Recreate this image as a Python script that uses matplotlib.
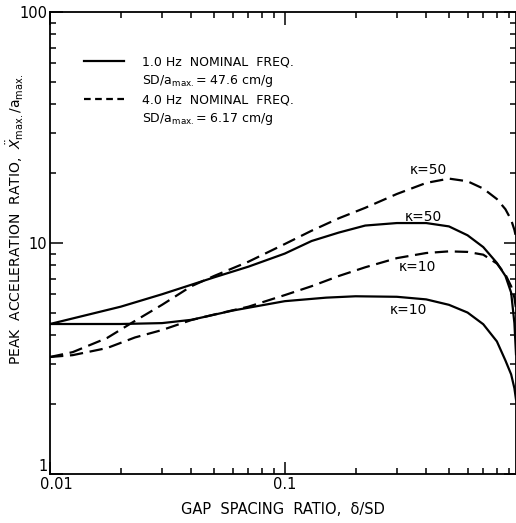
import matplotlib
matplotlib.use("Agg")
import matplotlib.pyplot as plt
import matplotlib.transforms as mtransforms
from matplotlib.lines import Line2D
from matplotlib.ticker import LogLocator, NullFormatter, FixedLocator, FixedFormatter

# gap spacing ratio (delta/SD) and peak acceleration ratio
x_s50 = [0.01, 0.02, 0.03, 0.05, 0.07, 0.1, 0.13, 0.17, 0.22, 0.3, 0.4, 0.5,
         0.6, 0.7, 0.8, 0.87, 0.92, 0.95, 0.965]
y_s50 = [4.46, 5.3, 6.0, 7.1, 7.9, 9.0, 10.2, 11.1, 11.9, 12.2, 12.2, 11.8,
         10.8, 9.6, 8.2, 7.2, 6.1, 4.5, 3.3]

x_s10 = [0.01, 0.02, 0.03, 0.04, 0.06, 0.1, 0.15, 0.2, 0.3, 0.4, 0.5, 0.6,
         0.7, 0.8, 0.87, 0.92, 0.95, 0.965]
y_s10 = [4.46, 4.46, 4.5, 4.65, 5.1, 5.6, 5.8, 5.88, 5.85, 5.7, 5.4, 5.0,
         4.45, 3.75, 3.1, 2.7, 2.35, 2.1]

x_d50 = [0.01, 0.0125, 0.0175, 0.023, 0.03, 0.04, 0.05, 0.07, 0.1, 0.13, 0.17,
         0.22, 0.3, 0.4, 0.5, 0.6, 0.7, 0.8, 0.87, 0.92, 0.95, 0.965]
y_d50 = [3.21, 3.37, 3.88, 4.6, 5.4, 6.5, 7.2, 8.3, 9.9, 11.3, 12.8,
         14.2, 16.3, 18.2, 19.0, 18.5, 17.2, 15.5, 14.0, 12.6, 11.4, 10.6]

x_d10 = [0.01, 0.0125, 0.0175, 0.023, 0.03, 0.04, 0.05, 0.07, 0.1, 0.13, 0.17,
         0.22, 0.3, 0.4, 0.5, 0.6, 0.7, 0.8, 0.87, 0.92, 0.95, 0.965]
y_d10 = [3.21, 3.27, 3.51, 3.9, 4.2, 4.64, 4.9, 5.3, 5.95, 6.5, 7.2,
         7.85, 8.6, 9.05, 9.2, 9.15, 8.9, 8.15, 7.3, 6.5, 5.8, 5.2]

# curve labels: (text, x, y)
curve_labels = [
    ("\u03ba=50", 0.41, 20.7),
    ("\u03ba=50", 0.39, 13.0),
    ("\u03ba=10", 0.366, 7.87),
    ("\u03ba=10", 0.336, 5.12),
]

x_ticks = [0.01, 0.1]
x_ticklabels = ["0.01", "0.1"]
y_ticks = [1, 10, 100]
y_ticklabels = ["1", "10", "100"]

legend_labels = [
    "1.0 Hz  NOMINAL  FREQ.",
    "SD/a$_\\mathregular{max.}$= 47.6 cm/g",
    "4.0 Hz  NOMINAL  FREQ.",
    "SD/a$_\\mathregular{max.}$= 6.17 cm/g",
]

fig = plt.figure(figsize=(5.16, 5.23), dpi=100)
ax = fig.add_axes([50 / 516, 49 / 523, 466 / 516, 462 / 523])

dash = (6, 3)
ax.plot(x_s50, y_s50, color="black", lw=1.6)
ax.plot(x_s10, y_s10, color="black", lw=1.6)
ax.plot(x_d50, y_d50, color="black", lw=1.6, dashes=dash)
ax.plot(x_d10, y_d10, color="black", lw=1.6, dashes=dash)

ax.set_xscale("log")
ax.set_yscale("log")
ax.set_xlim(0.01, 0.965)
ax.set_ylim(1, 100)

for txt, xx, yy in curve_labels:
    ax.text(xx, yy, txt, fontsize=10, ha="center", va="center")

ax.xaxis.set_major_locator(FixedLocator(x_ticks))
ax.xaxis.set_major_formatter(FixedFormatter(x_ticklabels))
ax.yaxis.set_major_locator(FixedLocator(y_ticks))
ax.yaxis.set_major_formatter(FixedFormatter(y_ticklabels))
ax.xaxis.set_minor_locator(LogLocator(base=10, subs=range(2, 10)))
ax.yaxis.set_minor_locator(LogLocator(base=10, subs=range(2, 10)))
ax.xaxis.set_minor_formatter(NullFormatter())
ax.yaxis.set_minor_formatter(NullFormatter())

ax.tick_params(which="both", direction="in", top=True, right=True,
               width=1.1, labelsize=10.5, pad=2)
ax.tick_params(which="major", length=9)
ax.tick_params(which="minor", length=4.5)
for sp in ax.spines.values():
    sp.set_linewidth(1.3)

# keep the "1" and "0.01" labels apart at the corner, as in the original
fig.canvas.draw()
ylab0 = ax.get_yticklabels()[0]
ylab0.set_va("bottom")
xlab0 = ax.get_xticklabels()[0]
xlab0.set_transform(xlab0.get_transform() +
                    mtransforms.ScaledTranslation(6 / 100, 0, fig.dpi_scale_trans))

ax.set_xlabel("GAP  SPACING  RATIO,  \u03b4/SD", fontsize=10.5, labelpad=7)
ax.set_ylabel("PEAK  ACCELERATION  RATIO,  $\\ddot{X}_\\mathregular{max.}$/a$_\\mathregular{max.}$",
              fontsize=10)
ax.yaxis.set_label_coords(-0.052, 0.55)

handles = [
    Line2D([], [], color="black", lw=1.6),
    Line2D([], [], color="none"),
    Line2D([], [], color="black", lw=1.6, dashes=(3, 2)),
    Line2D([], [], color="none"),
]
ax.legend(handles, legend_labels, loc="upper left", bbox_to_anchor=(0.063, 0.916),
          frameon=False, fontsize=9, handlelength=3.2, handletextpad=1.4,
          labelspacing=0.35, borderaxespad=0)

fig.savefig("out.png", dpi=100)
